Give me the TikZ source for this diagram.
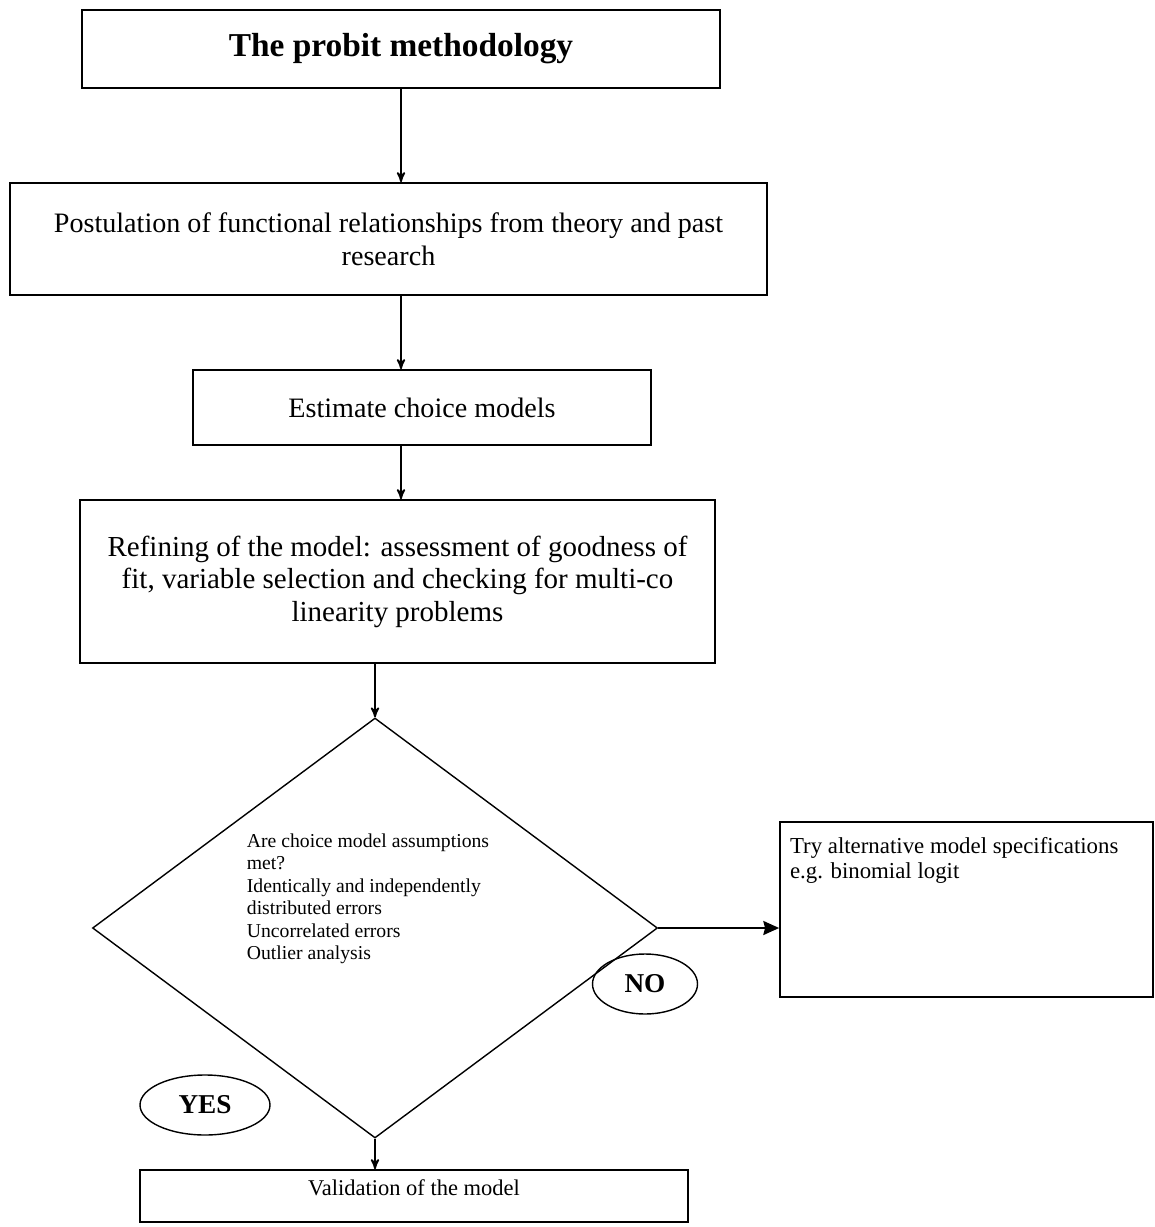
\documentclass[tikz,border=0pt]{standalone}
\usepackage{fontspec}
\setmainfont{Liberation Serif}
\usetikzlibrary{arrows,arrows.meta,shapes.geometric}

\begin{document}
\begin{tikzpicture}[>=stealth',line width=1pt,
                    box/.style={rectangle,draw,align=center,font=\fontsize{16}{18.5}\selectfont},
                    decision/.style={diamond,draw,line width=0.8pt,minimum width=11.3cm,minimum height=8.4cm,inner sep=0pt},
                    answer/.style={ellipse,draw,line width=0.8pt,font=\fontsize{15.5}{18}\selectfont\bfseries},
                    big arrow/.style={-{Stealth[length=9pt,width=8pt,inset=1pt]}}]
  \useasboundingbox (0,0) rectangle (23.1,-24.54);
  \node[box,minimum width=12.76cm,minimum height=1.56cm,font=\fontsize{19}{22}\selectfont\bfseries] (title) at (8.02,-0.98) {The probit methodology};
  \node[box,minimum width=15.14cm,minimum height=2.24cm] (post) at (7.77,-4.78)
    {Postulation of functional relationships from theory and past\\research};
  \node[box,minimum width=9.16cm,minimum height=1.5cm] (est) at (8.44,-8.15) {Estimate choice models};
  \node[box,minimum width=12.7cm,minimum height=3.26cm,font=\fontsize{16.5}{18.5}\selectfont] (refine) at (7.95,-11.63)
    {Refining of the model: assessment of goodness of\\fit, variable selection and checking for multi-co\\linearity problems};
  \node[decision] (check) at (7.5,-18.56) {};
  \node[align=left,font=\fontsize{11.2}{12.8}\selectfont] (checktext) at (7.36,-17.98)
    {Are choice model assumptions\\met?\\Identically and independently\\distributed errors\\Uncorrelated errors\\Outlier analysis};
  \node[rectangle,draw,minimum width=7.46cm,minimum height=3.5cm] (try) at (19.33,-18.19) {};
  \node[anchor=north west,align=left,inner sep=0pt,font=\fontsize{13}{14.5}\selectfont] (trytext) at ([xshift=0.2cm,yshift=-0.3cm]try.north west)
    {Try alternative model specifications\\e.g. binomial logit};
  \node[answer,minimum width=2.1cm,minimum height=1.2cm] (no) at (12.9,-19.68) {NO};
  \node[answer,minimum width=2.6cm,minimum height=1.2cm] (yes) at (4.1,-22.1) {YES};
  \node[rectangle,draw,minimum width=10.96cm,minimum height=1.04cm] (valid) at (8.28,-23.92) {};
  \node[font=\fontsize{12.8}{15}\selectfont] (validtext) at ([yshift=0.16cm]valid.center) {Validation of the model};
  \path[->]
    (title.south) edge (title.south |- post.north)
    (post.south -| title.south) edge (est.north -| title.south)
    (est.south -| title.south) edge (refine.north -| title.south)
    (refine.south -| check.north) edge (check.north)
    (check.south) edge (check.south |- valid.north)
    (check.east) edge[big arrow] (check.east -| try.west)
    ;
\end{tikzpicture}
\end{document}
